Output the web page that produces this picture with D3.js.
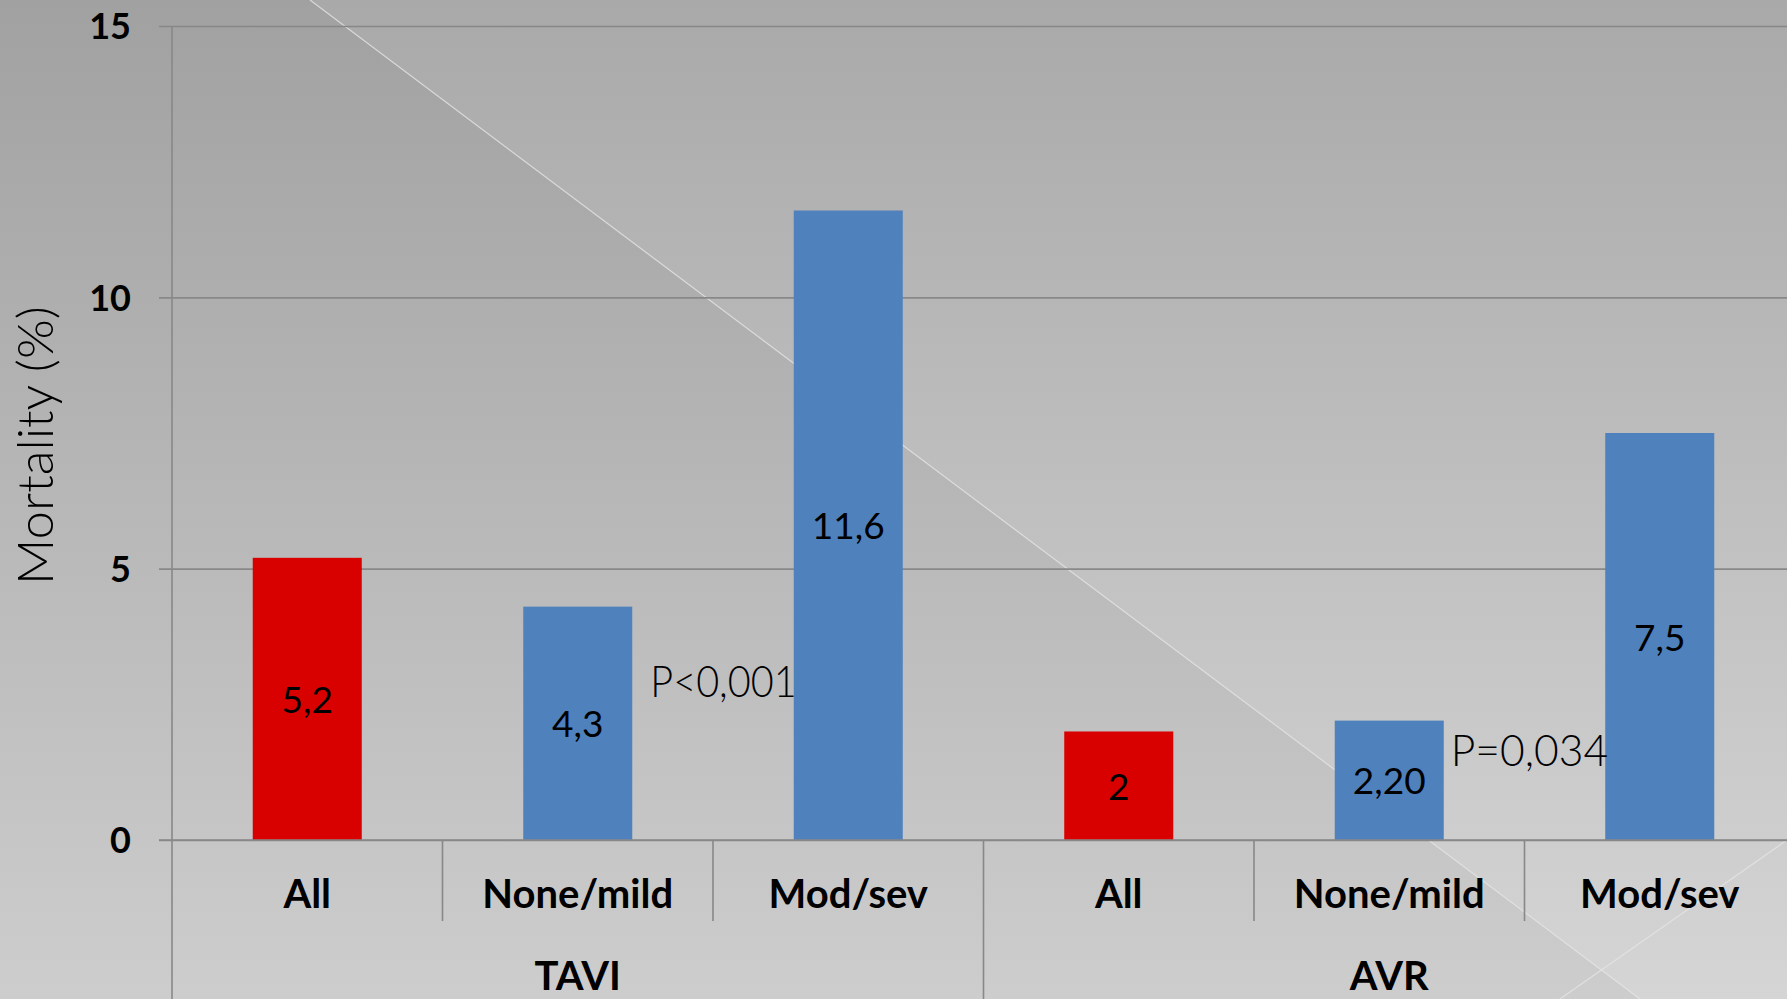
<!DOCTYPE html>
<html>
<head>
<meta charset="utf-8">
<script src="https://cdn.jsdelivr.net/npm/d3@7"></script>
<style>
  html, body { margin: 0; padding: 0; background: #c0c0c0; overflow: hidden; }
  svg { display: block; }
</style>
</head>
<body>
<svg id="chart" width="1787" height="999"></svg>
<script>
// Mortality by paravalvular regurgitation grade, TAVI vs AVR
const groups = ["TAVI", "AVR"];
const categories = ["All", "None/mild", "Mod/sev", "All", "None/mild", "Mod/sev"];
const categoryGroup = ["TAVI", "TAVI", "TAVI", "AVR", "AVR", "AVR"];
const mortality = [5.2, 4.3, 11.6, 2, 2.2, 7.5];
const valueLabels = ["5,2", "4,3", "11,6", "2", "2,20", "7,5"];
const barKind = ["all", "grade", "grade", "all", "grade", "grade"];
const yTicks = [0, 5, 10, 15];
const pValueText = ["P<0,001", "P=0,034"];
const pValueAfterBar = [1, 4];
const pValueLevel = [2.92, 1.66];
const yTitle = "Mortality (%)";

const W = 1787, H = 999;
const plotLeft = 172, plotRight = 1795, plotTop = 26, plotBase = 840;
const pGap = [18, 7];
const svg = d3.select("#chart");

// backdrop: vertical grey gradient split by a thin diagonal highlight
const defs = svg.append("defs");
function vgrad(id, c0, c1) {
  const g = defs.append("linearGradient").attr("id", id)
    .attr("gradientUnits", "userSpaceOnUse")
    .attr("x1", 0).attr("y1", 0).attr("x2", 0).attr("y2", H);
  g.append("stop").attr("offset", 0).attr("stop-color", c0);
  g.append("stop").attr("offset", 1).attr("stop-color", c1);
}
vgrad("bgLeft", "#a1a1a1", "#cdcdcd");
vgrad("bgRight", "#a9a9a9", "#d5d5d5");
svg.append("rect").attr("width", W).attr("height", H).attr("fill", "url(#bgLeft)");
svg.append("polygon").attr("points", "310,0 1787,0 1787,999 1640,999").attr("fill", "url(#bgRight)");
svg.append("line").attr("x1", 310).attr("y1", 0).attr("x2", 1640).attr("y2", 999)
  .attr("stroke", "#e6e6e6").attr("stroke-width", 1.2).attr("opacity", 0.8);
svg.append("line").attr("x1", 1787).attr("y1", 840).attr("x2", 1560).attr("y2", 999)
  .attr("stroke", "#e6e6e6").attr("stroke-width", 1.2).attr("opacity", 0.8);

// scales
const idx = d3.range(categories.length);
const x = d3.scaleBand().domain(idx).range([plotLeft, plotRight]).paddingInner(0.597).paddingOuter(0.597 / 2);
const y = d3.scaleLinear().domain([0, 15]).range([plotBase, plotTop]);
const step = x.step();
const gx = d3.scaleBand().domain(groups).range([plotLeft, plotRight]);

// y axis with gridlines
const yAxis = svg.append("g").attr("transform", `translate(${plotLeft},0)`)
  .call(d3.axisLeft(y).tickValues(yTicks).tickSize(13).tickPadding(28).tickFormat(d3.format("d")));
yAxis.select(".domain").remove();
yAxis.selectAll(".tick line").attr("x1", plotRight - plotLeft).attr("stroke", "#888").attr("stroke-width", 1.6);
yAxis.selectAll(".tick text")
  .attr("font-family", "Lato, sans-serif").attr("font-weight", 700).attr("font-size", 36)
  .attr("fill", "#000").attr("dy", "0.36em");

// vertical axis line, continuing down as the group divider
svg.append("line").attr("x1", plotLeft).attr("x2", plotLeft).attr("y1", y(15)).attr("y2", H)
  .attr("stroke", "#888").attr("stroke-width", 1.6);

// category and group dividers below the baseline
const catEdges = idx.slice(1).filter(i => categoryGroup[i] === categoryGroup[i - 1]);
svg.append("g").selectAll("line").data(catEdges).join("line")
  .attr("x1", i => x(i) + x.bandwidth() / 2 - step / 2)
  .attr("x2", i => x(i) + x.bandwidth() / 2 - step / 2)
  .attr("y1", plotBase).attr("y2", 921)
  .attr("stroke", "#888").attr("stroke-width", 1.6);
svg.append("g").selectAll("line").data(groups.slice(1).concat(["__end"])).join("line")
  .attr("x1", g => g === "__end" ? plotRight : gx(g))
  .attr("x2", g => g === "__end" ? plotRight : gx(g))
  .attr("y1", plotBase).attr("y2", H)
  .attr("stroke", "#888").attr("stroke-width", 1.6);

// bars
const colors = { all: "#d90000", grade: "#4f81bd" };
svg.append("g").selectAll("rect").data(idx).join("rect")
  .attr("x", i => x(i)).attr("width", x.bandwidth())
  .attr("y", i => y(mortality[i])).attr("height", i => y(0) - y(mortality[i]))
  .attr("fill", i => colors[barKind[i]]);

// value labels centred in each bar
svg.append("g").selectAll("text").data(idx).join("text")
  .attr("x", i => x(i) + x.bandwidth() / 2)
  .attr("y", i => y(mortality[i] / 2))
  .attr("dy", "0.38em")
  .attr("text-anchor", "middle")
  .attr("font-family", "Lato, sans-serif").attr("font-size", 37).attr("fill", "#000")
  .text(i => valueLabels[i]);

// p-values between the grade bars
svg.append("g").selectAll("text").data(d3.range(pValueText.length)).join("text")
  .attr("x", k => x(pValueAfterBar[k]) + x.bandwidth() + pGap[k])
  .attr("y", k => y(pValueLevel[k]))
  .attr("dy", "0.36em")
  .attr("font-family", "Lato, sans-serif").attr("font-weight", 300).attr("font-size", 44)
  .attr("fill", "#000")
  .attr("textLength", k => x(pValueAfterBar[k] + 1) - (x(pValueAfterBar[k]) + x.bandwidth() + pGap[k]) + 3)
  .attr("lengthAdjust", "spacingAndGlyphs")
  .text(k => pValueText[k]);

// category labels
const xAxis = svg.append("g").attr("transform", `translate(0,${plotBase})`)
  .call(d3.axisBottom(x).tickSize(0).tickPadding(0).tickFormat(i => categories[i]));
xAxis.select(".domain").attr("stroke", "#888").attr("stroke-width", 1.6).attr("d", `M${plotLeft - 13},0H${plotRight}`);
xAxis.selectAll(".tick text")
  .attr("font-family", "Lato, sans-serif").attr("font-weight", 700).attr("font-size", 40)
  .attr("fill", "#000").attr("y", 68).attr("dy", 0);

// group labels
svg.append("g").selectAll("text").data(groups).join("text")
  .attr("x", g => gx(g) + gx.bandwidth() / 2).attr("y", 990)
  .attr("text-anchor", "middle")
  .attr("font-family", "Lato, sans-serif").attr("font-weight", 700).attr("font-size", 40)
  .attr("fill", "#000").text(g => g);

// y-axis title
svg.append("text")
  .attr("transform", `translate(53,${(306 + 585) / 2}) rotate(-90)`)
  .attr("text-anchor", "middle")
  .attr("font-family", "Lato, sans-serif").attr("font-weight", 300).attr("font-size", 50)
  .attr("fill", "#000")
  .attr("textLength", 279).attr("lengthAdjust", "spacingAndGlyphs")
  .text(yTitle);
</script>
</body>
</html>
